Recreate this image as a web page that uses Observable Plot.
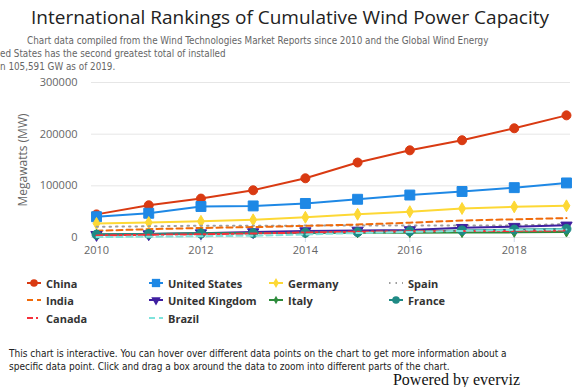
<!DOCTYPE html>
<html><head><meta charset="utf-8">
<script src="https://cdn.jsdelivr.net/npm/d3@7"></script>
<script src="https://cdn.jsdelivr.net/npm/@observablehq/plot@0.6"></script>
<style>
html,body{margin:0;padding:0;background:#fff;}
#wrap{position:relative;width:580px;height:387px;overflow:hidden;font-family:"Open Sans",sans-serif;}
#title{position:absolute;left:0;width:580px;top:4px;text-align:center;font-size:19px;color:#222;font-family:"Open Sans",sans-serif;}
.sub{position:absolute;font-size:9.8px;line-height:12px;color:#666;white-space:nowrap;font-family:"DejaVu Sans",sans-serif;font-stretch:condensed;}
#chart{position:absolute;left:0;top:75px;}
#legend{position:absolute;left:0;top:274px;width:580px;height:60px;}
.li{position:absolute;display:flex;align-items:center;font-weight:bold;font-size:11px;color:#333;white-space:nowrap;}
.li svg{margin-right:4px;}
.foot{position:absolute;left:9px;font-size:10px;line-height:12px;color:#222;white-space:nowrap;font-family:"DejaVu Sans",sans-serif;font-stretch:condensed;}
#pow{position:absolute;right:60px;top:373px;line-height:13px;font-family:"Liberation Serif",serif;font-size:16px;color:#111;}
</style></head><body>
<div id="wrap">
<div id="title">International Rankings of Cumulative Wind Power Capacity</div>
<div class="sub" style="left:27px;top:35px">Chart data compiled from the Wind Technologies Market Reports since 2010 and the Global Wind Energy</div>
<div class="sub" style="left:0px;top:48px">ed States has the second greatest total of installed</div>
<div class="sub" style="left:0px;top:61px">n 105,591 GW as of 2019.</div>
<div id="chart"></div>
<div id="legend"></div>
<div class="foot" style="top:348px">This chart is interactive. You can hover over different data points on the chart to get more information about a</div>
<div class="foot" style="top:361px">specific data point. Click and drag a box around the data to zoom into different parts of the chart.</div>
<div id="pow">Powered by everviz</div>
</div>
<script>
const years = [2010,2011,2012,2013,2014,2015,2016,2017,2018,2019];
const china   = [44733,62364,75324,91413,114609,145104,168732,188232,211392,236402];
const unitedStates = [40180,46919,60007,61108,65879,73992,82183,89077,96488,105591];
const germany = [27214,29060,31308,34250,39165,44947,50019,56132,59311,61357];
const spain   = [20676,21674,22796,22959,22987,23025,23075,23170,23494,25808];
const india   = [13065,16084,18421,20150,22465,25088,28700,32848,35129,37529];
const uk      = [5204,6540,8445,10531,12440,13603,14543,18872,20970,23515];
const italy   = [5797,6747,8144,8558,8663,8958,9257,9479,9958,10512];
const france  = [5660,6800,7564,8254,9285,10358,12066,13759,15313,16646];
const canada  = [4008,5265,6200,7803,9694,11205,11900,12816,12816,13413];
const brazil  = [931,1426,2508,3466,5939,8715,10740,12763,14707,15452];

const seriesNames = ["China","United States","Germany","Spain","India","United Kingdom","Italy","France","Canada","Brazil"];
const seriesValues = [china,unitedStates,germany,spain,india,uk,italy,france,canada,brazil];
const colors = ["#d93a12","#1e88e5","#fdd835","#9e9e9e","#f06a0a","#3f1fa0","#2e8b3c","#1f8a85","#f5303a","#7fe3dc"];
const dashes = [null,null,null,"1.5,5","6,4",null,null,null,"6,3,2,3","6,4"];
const symbols = ["circle","square","diamond","none","none","triangle","diamond","circle","none","none"];
const rotates = [0,0,0,0,0,180,0,0,0,0];
const radii = [4.5,5.6,3.6,0,0,4.2,3,4.5,0,0];

const yTicks = [0,100000,200000,300000];
const xTicks = [2010,2012,2014,2016,2018];

const marks = [
  Plot.gridY(yTicks,{stroke:"#e6e6e6",strokeOpacity:1}),
  Plot.axisY(yTicks,{tickSize:0,tickPadding:14,fontSize:11,fill:"#666",label:null,tickFormat:d=>String(d)}),
  Plot.axisX(xTicks,{tickSize:5,stroke:"#ccd6eb",tickPadding:4,fontSize:11,fill:"#666",label:null,tickFormat:d=>String(d)})
];
seriesNames.forEach((name,i)=>{
  const data = years.map((y,j)=>({year:y,value:seriesValues[i][j]}));
  marks.push(Plot.line(data,{x:"year",y:"value",stroke:colors[i],strokeWidth:2,strokeDasharray:dashes[i]||undefined,curve:"linear"}));
  if(symbols[i]!=="none"){
    marks.push(Plot.dot(data,{x:"year",y:"value",fill:colors[i],stroke:colors[i],strokeWidth:1,symbol:symbols[i],r:radii[i],rotate:rotates[i]}));
  }
});

const chart = Plot.plot({
  width:580,height:184,
  marginLeft:91,marginRight:10,marginTop:7,marginBottom:22,
  x:{domain:[2009.904,2019.077]},
  y:{domain:[0,300000]},
  style:{fontFamily:"Open Sans, sans-serif",background:"transparent"},
  marks
});
document.getElementById("chart").appendChild(chart);
// y axis title
const yl = document.createElement("div");
yl.textContent = "Megawatts (MW)";
yl.style.cssText = "position:absolute;left:22px;top:160px;transform:translate(-50%,-50%) rotate(-90deg);font-size:12px;color:#666;white-space:nowrap;font-family:'Open Sans',sans-serif;";
document.getElementById("wrap").appendChild(yl);

// legend
const legX = [28,150,270,390];
const legY = [283,300,318];
const leg = document.getElementById("legend");
seriesNames.forEach((name,i)=>{
  const col = i%4, row = Math.floor(i/4);
  const el = document.createElement("div");
  el.className="li";
  el.style.left=(legX[col]-2)+"px";
  el.style.top=(legY[row]-274-8)+"px";
  const ns="http://www.w3.org/2000/svg";
  const s=document.createElementNS(ns,"svg");
  s.setAttribute("width","16");s.setAttribute("height","16");
  const l=document.createElementNS(ns,"line");
  l.setAttribute("x1","1");l.setAttribute("x2","15");l.setAttribute("y1","8");l.setAttribute("y2","8");
  l.setAttribute("stroke",colors[i]);l.setAttribute("stroke-width","2");
  if(dashes[i]) l.setAttribute("stroke-dasharray",dashes[i]);
  s.appendChild(l);
  if(symbols[i]!=="none"){
    const sym = {circle:d3.symbolCircle,square:d3.symbolSquare,diamond:d3.symbolDiamond,triangle:d3.symbolTriangle}[symbols[i]];
    const p=document.createElementNS(ns,"path");
    p.setAttribute("d",d3.symbol(sym,Math.PI*radii[i]*radii[i]*0.7)());
    p.setAttribute("transform",`translate(8,8) rotate(${rotates[i]})`);
    p.setAttribute("fill",colors[i]);
    s.appendChild(p);
  }
  el.appendChild(s);
  const t=document.createElement("span");t.textContent=name;el.appendChild(t);
  leg.appendChild(el);
});
</script>
</body></html>
